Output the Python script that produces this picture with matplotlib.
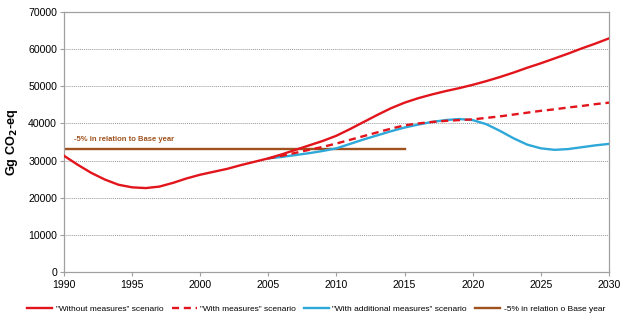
import matplotlib
matplotlib.use("Agg")
import matplotlib.pyplot as plt

plt.rcParams["font.family"] = ["Liberation Sans", "DejaVu Sans"]

years_hist = list(range(1990, 2031))
without_measures = [31300, 28900, 26700, 24900, 23500, 22800, 22600, 23000, 24000, 25200,
                    26200, 27000, 27800, 28800, 29700, 30600, 31700, 32900, 34100, 35300,
                    36700, 38500, 40400, 42300, 44100, 45600, 46800, 47800, 48700, 49500,
                    50400, 51400, 52500, 53700, 55000, 56200, 57500, 58800, 60200, 61500,
                    62900]

years_proj = list(range(2005, 2031))
with_measures = [30600, 31300, 32100, 32900, 33700, 34600, 35600, 36600, 37600, 38600,
                 39500, 40000, 40400, 40700, 40900, 41100, 41500, 41900, 42400, 42900,
                 43400, 43800, 44300, 44700, 45200, 45600]
with_additional = [30600, 31000, 31500, 32000, 32600, 33300, 34500, 35700, 36800, 37900,
                   38900, 39700, 40400, 40900, 41200, 40900, 39800, 38000, 36000, 34300,
                   33300, 32900, 33100, 33600, 34100, 34500]

base_years = [1990, 2015]
base_target = [33100, 33100]

labels = ['"Without measures" scenario', '"With measures" scenario',
          '"With additional measures" scenario', '-5% in relation o Base year']

red = "#E2141C"
blue = "#2EA8D8"
brown = "#A0521E"

fig = plt.figure(figsize=(6.26, 3.25), dpi=100)
ax = fig.add_axes([0.1022, 0.163, 0.8706, 0.8])

ax.plot(years_hist, without_measures, color=red, lw=1.7, label=labels[0], zorder=4)
ax.plot(years_proj, with_measures, color=red, lw=1.7, ls=(0, (3, 2)), label=labels[1], zorder=5)
ax.plot(years_proj, with_additional, color=blue, lw=1.7, label=labels[2], zorder=3)
ax.plot(base_years, base_target, color=brown, lw=1.7, label=labels[3], zorder=2)

ax.text(1990.7, 34700, "-5% in relation to Base year", color=brown, fontsize=5.5,
        fontweight="bold", va="bottom")

ax.set_xlim(1990, 2030)
ax.set_ylim(0, 70000)
ax.set_xticks(range(1990, 2031, 5))
ax.set_yticks(range(0, 70001, 10000))
ax.grid(axis="y", color="#9a9a9a", ls=(0, (1, 1)), lw=0.7)
ax.set_axisbelow(True)
for s in ax.spines.values():
    s.set_color("#a0a0a0")
    s.set_linewidth(0.9)
ax.tick_params(labelsize=7.6, colors="#a0a0a0", labelcolor="black", length=3, width=0.8)
ax.tick_params(axis="x", pad=3)
ax.tick_params(axis="y", pad=2)
ax.set_ylabel(r"Gg CO$_\mathbf{2}$-eq", fontsize=9.2, fontweight="bold", labelpad=6)

fig.legend(loc="lower center", bbox_to_anchor=(0.505, 0.015), ncol=4, frameon=False,
           fontsize=6.0, handlelength=3.0, columnspacing=1.0, handletextpad=0.4)

fig.savefig("out.png", dpi=100)
